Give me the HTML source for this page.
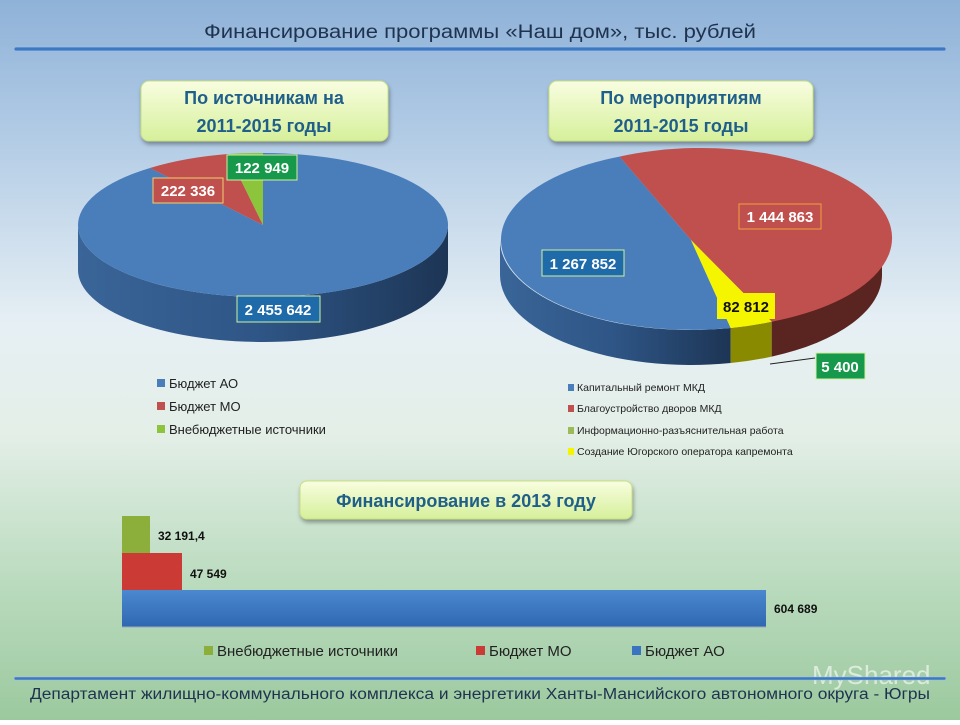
<!DOCTYPE html>
<html><head><meta charset="utf-8">
<style>
html,body{margin:0;padding:0}
body{width:960px;height:720px;overflow:hidden;font-family:"Liberation Sans",sans-serif}
</style></head><body>
<svg width="960" height="720" viewBox="0 0 960 720" xmlns="http://www.w3.org/2000/svg" font-family="Liberation Sans, sans-serif">
<defs>
<linearGradient id="bg" x1="0" y1="0" x2="0" y2="1">
<stop offset="0" stop-color="#8fb2d8"/>
<stop offset="0.2" stop-color="#b4cde6"/>
<stop offset="0.45" stop-color="#e6eff4"/>
<stop offset="0.6" stop-color="#e4efe8"/>
<stop offset="0.8" stop-color="#bcdcc0"/>
<stop offset="1" stop-color="#9cc99e"/>
</linearGradient>
<linearGradient id="box" x1="0" y1="0" x2="0" y2="1">
<stop offset="0" stop-color="#f8fde0"/>
<stop offset="1" stop-color="#d6f09a"/>
</linearGradient>
<linearGradient id="bside" x1="0" y1="0" x2="1" y2="0">
<stop offset="0" stop-color="#3a6598"/>
<stop offset="0.5" stop-color="#2e5585"/>
<stop offset="1" stop-color="#1d3555"/>
</linearGradient>
<linearGradient id="bar" x1="0" y1="0" x2="0" y2="1">
<stop offset="0" stop-color="#4a88d0"/>
<stop offset="1" stop-color="#2f68b0"/>
</linearGradient>
<filter id="sh" x="-10%" y="-10%" width="120%" height="140%"><feDropShadow dx="1" dy="3" stdDeviation="2" flood-opacity="0.35"/></filter>
</defs>
<rect width="960" height="720" fill="url(#bg)"/>

<!-- Header -->
<text x="480" y="38" text-anchor="middle" font-size="19" fill="#1f3350" textLength="552" lengthAdjust="spacingAndGlyphs">Финансирование программы «Наш дом», тыс. рублей</text>
<rect x="14" y="47" width="932" height="4" rx="2" fill="#3d78c0" stroke="#9cc0e8" stroke-width="0.8"/>

<!-- Callouts -->
<rect x="141" y="81" width="247" height="60" rx="8" fill="url(#box)" stroke="#c8e080" filter="url(#sh)"/>
<text x="264" y="104" text-anchor="middle" font-size="18" fill="#1f5f8a" font-weight="bold">По источникам на</text>
<text x="264" y="132" text-anchor="middle" font-size="18" fill="#1f5f8a" font-weight="bold">2011-2015 годы</text>
<rect x="549" y="81" width="264" height="60" rx="8" fill="url(#box)" stroke="#c8e080" filter="url(#sh)"/>
<text x="681" y="104" text-anchor="middle" font-size="18" fill="#1f5f8a" font-weight="bold">По мероприятиям</text>
<text x="681" y="132" text-anchor="middle" font-size="18" fill="#1f5f8a" font-weight="bold">2011-2015 годы</text>

<!-- Left pie -->
<path d="M78,225 A185,72 0 0,0 448,225 L448,270 A185,72 0 0,1 78,270 Z" fill="url(#bside)"/>
<path d="M263,225 L150,168 A185,72 0 1,0 263,153 Z" fill="#4a7ebb"/>
<path d="M263,225 L228,154 A185,72 0 0,0 150,168 Z" fill="#c0504d"/>
<path d="M263,225 L263,153 A185,72 0 0,0 228,154 Z" fill="#8cc43c"/>
<rect x="153" y="178" width="70" height="25" fill="#c0504d" stroke="#f0d070"/>
<text x="188" y="196" text-anchor="middle" font-size="15" font-weight="bold" fill="#fff">222 336</text>
<rect x="227" y="155" width="70" height="25" fill="#16994a" stroke="#d0f0a0"/>
<text x="262" y="173" text-anchor="middle" font-size="15" font-weight="bold" fill="#fff">122 949</text>
<rect x="237" y="296" width="83" height="26" fill="#1f6aa8" stroke="#d0f0a0"/>
<text x="278" y="315" text-anchor="middle" font-size="15" font-weight="bold" fill="#fff">2 455 642</text>

<!-- Right pie -->
<path d="M500,240 A191,90 0 0,0 730.7,328 L730.7,363 A191,90 0 0,1 500,275 Z" fill="url(#bside)"/>
<path d="M730.7,328 A191,90 0 0,0 771.7,321.6 L771.7,356.6 A191,90 0 0,1 730.7,363 Z" fill="#8a8a00"/>
<path d="M771.7,321.6 A191,90 0 0,0 882,240 L882,275 A191,90 0 0,1 771.7,356.6 Z" fill="#5a2420"/>
<path d="M691,240 L619.5,156.6 A191,90 0 0,0 730.7,328 Z" fill="#4a7ebb"/>
<path d="M691,240 L730.7,328 A191,90 0 0,0 771.7,321.6 Z" fill="#f5f500"/>
<path d="M691,240 L771.7,321.6 A191,90 0 1,0 619.5,156.6 Z" fill="#c0504d"/>
<line x1="770" y1="364" x2="815" y2="358" stroke="#222" stroke-width="1"/>
<rect x="739" y="204" width="82" height="25" fill="#c0504d" stroke="#f0a040"/>
<text x="780" y="222" text-anchor="middle" font-size="15" font-weight="bold" fill="#fff">1 444 863</text>
<rect x="542" y="250" width="82" height="26" fill="#1f6aa8" stroke="#d0f0a0"/>
<text x="583" y="269" text-anchor="middle" font-size="15" font-weight="bold" fill="#fff">1 267 852</text>
<rect x="717" y="293" width="58" height="26" fill="#f5f500"/>
<text x="746" y="312" text-anchor="middle" font-size="15" font-weight="bold" fill="#111">82 812</text>
<rect x="816" y="353" width="49" height="26" fill="#16994a" stroke="#d0f0a0"/>
<text x="840" y="372" text-anchor="middle" font-size="15" font-weight="bold" fill="#fff">5 400</text>

<!-- Left legend -->
<g font-size="13" fill="#222">
<rect x="157" y="379" width="8" height="8" fill="#4a7ebb"/><text x="169" y="388">Бюджет АО</text>
<rect x="157" y="402" width="8" height="8" fill="#c0504d"/><text x="169" y="411">Бюджет МО</text>
<rect x="157" y="425" width="8" height="8" fill="#8cc43c"/><text x="169" y="434">Внебюджетные источники</text>
</g>
<g font-size="10.5" fill="#222">
<rect x="568" y="384" width="6" height="7" fill="#4a7ebb"/><text x="577" y="391">Капитальный  ремонт МКД</text>
<rect x="568" y="405" width="6" height="7" fill="#c0504d"/><text x="577" y="412">Благоустройство дворов  МКД</text>
<rect x="568" y="427" width="6" height="7" fill="#9bbb59"/><text x="577" y="434">Информационно-разъяснительная  работа</text>
<rect x="568" y="448" width="6" height="7" fill="#f5f500"/><text x="577" y="455">Создание  Югорского оператора капремонта</text>
</g>

<!-- Bar chart -->
<rect x="300" y="481" width="332" height="38" rx="7" fill="url(#box)" stroke="#c8e080" filter="url(#sh)"/>
<text x="466" y="507" text-anchor="middle" font-size="18" font-weight="bold" fill="#1f5f8a">Финансирование в 2013 году</text>
<rect x="122" y="516" width="28" height="37" fill="#8caf3c"/>
<rect x="122" y="553" width="60" height="37" fill="#cc3a36"/>
<rect x="122" y="590" width="644" height="37" fill="url(#bar)"/>
<rect x="122" y="626" width="644" height="2" fill="#9ab" opacity="0.5"/>
<g font-size="12" font-weight="bold" fill="#111">
<text x="158" y="540">32 191,4</text>
<text x="190" y="578">47 549</text>
<text x="774" y="613">604 689</text>
</g>
<g font-size="15" fill="#222">
<rect x="204" y="646" width="9" height="9" fill="#8caf3c"/><text x="217" y="656">Внебюджетные источники</text>
<rect x="476" y="646" width="9" height="9" fill="#cc3a36"/><text x="489" y="656">Бюджет МО</text>
<rect x="632" y="646" width="9" height="9" fill="#3a74c0"/><text x="645" y="656">Бюджет АО</text>
</g>
<text x="812" y="684" font-size="26" fill="#fff" opacity="0.6">MyShared</text>
<rect x="14" y="677" width="932" height="3" rx="1.5" fill="#3d78c0" stroke="#9cc0e8" stroke-width="0.6"/>
<text x="480" y="699" text-anchor="middle" font-size="15.5" fill="#1f3350" textLength="900" lengthAdjust="spacingAndGlyphs">Департамент жилищно-коммунального комплекса и энергетики Ханты-Мансийского автономного округа - Югры</text>
</svg>
</body></html>
